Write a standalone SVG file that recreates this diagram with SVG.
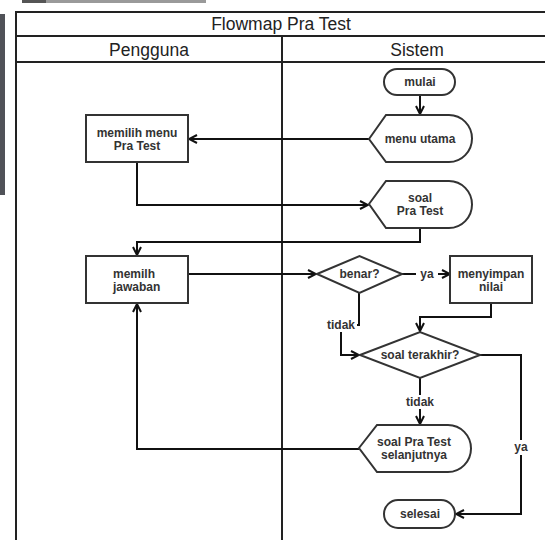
<svg xmlns="http://www.w3.org/2000/svg" width="545" height="540" viewBox="0 0 545 540">
  <defs>
    <marker id="open" viewBox="0 0 10 10" refX="9" refY="5" markerWidth="10" markerHeight="10" markerUnits="userSpaceOnUse" orient="auto">
      <path d="M1,1 L9,5 L1,9" fill="none" stroke="#111" stroke-width="2"/>
    </marker>
  </defs>
  <style>
    .frame { fill: none; stroke: #222; stroke-width: 2; }
    .shape { fill: #fff; stroke: #333; stroke-width: 2; }
    .edge { fill: none; stroke: #111; stroke-width: 2; marker-end: url(#open); }
    .line { fill: none; stroke: #111; stroke-width: 2; }
    .head { font-family: "Liberation Sans", Arial, sans-serif; font-size: 17.5px; fill: #222; text-anchor: middle; }
    .lbl { font-family: "Liberation Sans", Arial, sans-serif; font-size: 12px; font-weight: bold; fill: #333; text-anchor: middle; }
    .left { text-anchor: start; }
    .tag { font-family: "Liberation Sans", Arial, sans-serif; font-size: 12px; font-weight: bold; fill: #333; text-anchor: middle; }
  </style>
  <rect width="545" height="540" fill="#fff"/>
  <!-- window chrome fragments -->
  <rect x="22" y="0" width="24" height="3" fill="#555"/>
  <rect x="46" y="0" width="160" height="3" fill="#9a9a9a"/>
  <rect x="0" y="14" width="5" height="181" fill="#505258"/>

  <!-- swimlane frame -->
  <g id="lanes">
    <path class="frame" d="M546,12 H16 V541"/>
    <line class="frame" x1="16" y1="36" x2="546" y2="36"/>
    <line class="frame" x1="16" y1="62" x2="546" y2="62"/>
    <line class="frame" x1="282" y1="36" x2="282" y2="541"/>
    <text class="head" x="281" y="30">Flowmap Pra Test</text>
    <text class="head" x="149" y="56">Pengguna</text>
    <text class="head" x="417" y="56">Sistem</text>
  </g>

  <!-- connectors -->
  <g id="connectors">
    <line class="edge" x1="420" y1="95" x2="420" y2="114"/>
    <line class="edge" x1="369" y1="139" x2="189" y2="139"/>
    <path class="edge" d="M137,162 V205 H368"/>
    <path class="edge" d="M420,228 V242 H137 V255"/>
    <line class="edge" x1="188" y1="274" x2="316" y2="274"/>
    <line class="line" x1="402" y1="274" x2="416" y2="274"/>
    <line class="edge" x1="438" y1="274" x2="450" y2="274"/>
    <path class="edge" d="M491,303 V317 H420 V331"/>
    <path class="line" d="M359,293 V325 H341"/>
    <path class="edge" d="M341,325 V355 H359"/>
    <path class="line" d="M480,355 H521 V440"/>
    <path class="edge" d="M521,455 V514 H456"/>
    <line class="line" x1="420" y1="378" x2="420" y2="395"/>
    <line class="edge" x1="420" y1="409" x2="420" y2="424"/>
    <path class="edge" d="M359,449 H137 V304"/>
    <!-- edge labels -->
    <rect x="326" y="317" width="31" height="15" fill="#fff"/>
    <text class="tag" x="341" y="329">tidak</text>
    <text class="tag" x="427" y="278">ya</text>
    <text class="tag" x="420" y="406">tidak</text>
    <text class="tag" x="521" y="451">ya</text>
  </g>

  <g id="mulai">
    <rect class="shape" x="384" y="69" width="71" height="26" rx="13"/>
    <text class="lbl" x="420" y="86">mulai</text>
  </g>
  <g id="menu-utama">
    <path class="shape" d="M369,139 L386,115 L449,115 A23,23.5 0 0 1 449,162 L386,162 Z"/>
    <text class="lbl" x="420" y="143">menu utama</text>
  </g>
  <g id="memilih-menu">
    <rect class="shape" x="86" y="115" width="102" height="47"/>
    <text class="lbl" x="137" y="137">memilih menu</text>
    <text class="lbl" x="137" y="150">Pra Test</text>
  </g>
  <g id="soal-pra-test">
    <path class="shape" d="M369,204 L386,181 L449,181 A23,23.5 0 0 1 449,228 L386,228 Z"/>
    <text class="lbl" x="420" y="202">soal</text>
    <text class="lbl" x="420" y="215">Pra Test</text>
  </g>
  <g id="memilih-jawaban">
    <rect class="shape" x="86" y="256" width="102" height="47"/>
    <text class="lbl left" x="113" y="278">memilh</text>
    <text class="lbl left" x="113" y="291">jawaban</text>
  </g>
  <g id="benar">
    <path class="shape" d="M317,274 L359.5,256 L402,274 L359.5,293 Z"/>
    <text class="lbl" x="359.5" y="278">benar?</text>
  </g>
  <g id="menyimpan-nilai">
    <rect class="shape" x="450" y="256" width="82" height="47"/>
    <text class="lbl" x="491" y="278">menyimpan</text>
    <text class="lbl" x="491" y="291">nilai</text>
  </g>
  <g id="soal-terakhir">
    <path class="shape" d="M360,355 L420,332 L480,355 L420,378 Z"/>
    <text class="lbl" x="420" y="359">soal terakhir?</text>
  </g>
  <g id="soal-selanjutnya">
    <path class="shape" d="M359,448 L377,425 L448,425 A23,23.5 0 0 1 448,472 L377,472 Z"/>
    <text class="lbl" x="414" y="446">soal Pra Test</text>
    <text class="lbl" x="414" y="459">selanjutnya</text>
  </g>
  <g id="selesai">
    <rect class="shape" x="384" y="500" width="71" height="28" rx="14"/>
    <text class="lbl" x="420" y="518">selesai</text>
  </g>
</svg>
